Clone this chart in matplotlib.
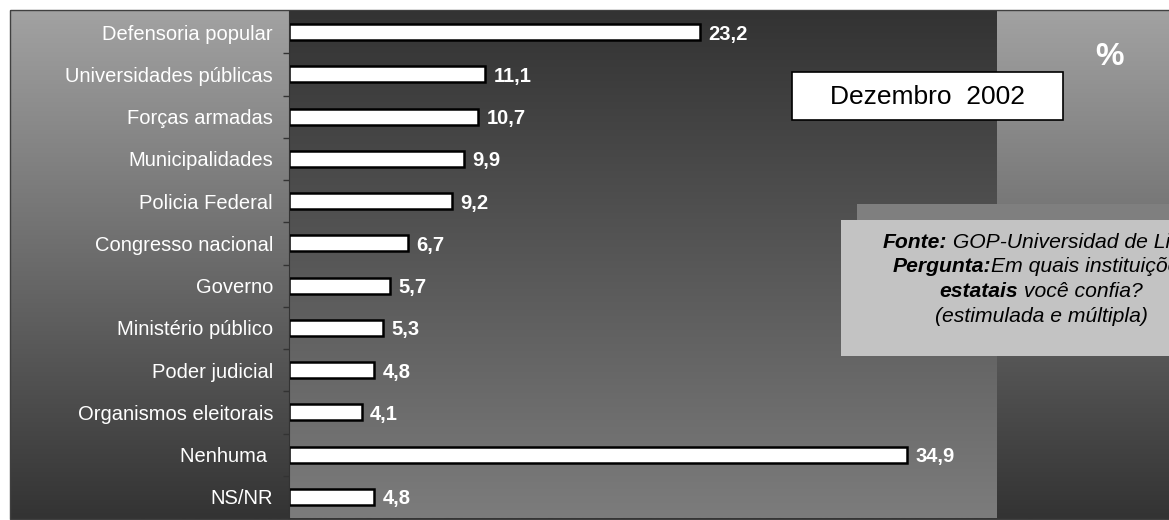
import numpy as np
import matplotlib.pyplot as plt
from matplotlib.patches import Rectangle
from matplotlib.colors import LinearSegmentedColormap

plt.rcParams['font.family'] = 'Liberation Sans'

W, H = 1169, 520

# data
categories = ['Defensoria popular', 'Universidades públicas', 'Forças armadas',
              'Municipalidades', 'Policia Federal', 'Congresso nacional', 'Governo',
              'Ministério público', 'Poder judicial', 'Organismos eleitorais',
              'Nenhuma ', 'NS/NR']
values = [23.2, 11.1, 10.7, 9.9, 9.2, 6.7, 5.7, 5.3, 4.8, 4.1, 34.9, 4.8]
period_label = 'Dezembro  2002'
info_lines = [
    [('Fonte:', 'bold'), (' GOP-Universidad de Lima', 'normal')],
    [('Pergunta:', 'bold'), ('Em quais instituições', 'normal')],
    [('estatais', 'bold'), (' você confia?', 'normal')],
    [('(estimulada e múltipla)', 'normal')],
]

fig = plt.figure(figsize=(W / 100, H / 100), dpi=100)
fig.patch.set_facecolor('white')

grad = np.linspace(0, 1, 256).reshape(-1, 1)
outer_cmap = LinearSegmentedColormap.from_list('outer', ['#a2a2a2', '#333333'])
inner_cmap = LinearSegmentedColormap.from_list('inner', ['#333333', '#7c7c7c'])

# background (pixel coordinates)
bg = fig.add_axes([0, 0, 1, 1], zorder=0)
bg.set_xlim(0, W)
bg.set_ylim(H, 0)
bg.axis('off')
bg.imshow(grad, extent=[10, W + 2, 519, 10], cmap=outer_cmap, aspect='auto')
bg.add_patch(Rectangle((10, 10), W, 509, fill=False, ec='#404040', lw=1))
bg.set_xlim(0, W)
bg.set_ylim(H, 0)

# main plot
ax = fig.add_axes([289 / W, 1 - 518 / H, (997 - 289) / W, (518 - 11) / H], zorder=1)
ax.imshow(grad, extent=[0, 1, 0, 1], transform=ax.transAxes, cmap=inner_cmap,
          aspect='auto', zorder=0)
y = np.arange(len(categories))
ax.barh(y, values, height=0.38, color='white', edgecolor='black', linewidth=1.8, zorder=2)
ax.set_xlim(0, 40)
ax.set_ylim(len(categories) - 0.5, -0.5)
ax.set_xticks([])
ax.set_yticks(y, categories)
ax.set_yticks(np.arange(0.5, len(categories) - 0.5, 1), minor=True)
ax.tick_params(axis='y', which='major', length=0, pad=11.5, labelsize=14.5, labelcolor='white')
ax.tick_params(axis='y', which='minor', length=4.5, width=1, color='#333333')
for s in ['top', 'right', 'bottom']:
    ax.spines[s].set_visible(False)
ax.spines['left'].set_color('#333333')

for yi, v in zip(y, values):
    ax.annotate(f'{v:.1f}'.replace('.', ','), (v, yi), xytext=(6, 0),
                textcoords='offset points', va='center_baseline', ha='left',
                color='white', fontweight='bold', fontsize=14.5, zorder=3)

# overlay: boxes and notes
ov = fig.add_axes([0, 0, 1, 1], zorder=3)
ov.set_xlim(0, W)
ov.set_ylim(H, 0)
ov.axis('off')

ov.add_patch(Rectangle((792, 72), 271, 48, fc='white', ec='black', lw=1.2))
ov.text(927, 97, period_label, ha='center', va='center', fontsize=19, color='black')
ov.text(1110, 57, '%', ha='center', va='center', fontsize=23, fontweight='bold', color='white')

ov.add_patch(Rectangle((857, 204), 400, 136, fc='#7f7f7f', ec='none'))
ov.add_patch(Rectangle((841, 220), 400, 136, fc='#c3c3c3', ec='none'))

renderer = fig.canvas.get_renderer()
cx = 1041
for i, parts in enumerate(info_lines):
    yb = 248 + 24.5 * i
    texts = [ov.text(0, yb, s, fontsize=15.2, fontstyle='italic', fontweight=w,
                     color='black', ha='left', va='baseline') for s, w in parts]
    widths = [t.get_window_extent(renderer).width for t in texts]
    x = cx - sum(widths) / 2
    for t, wd in zip(texts, widths):
        t.set_x(x)
        x += wd

fig.savefig('out.png', dpi=100)
